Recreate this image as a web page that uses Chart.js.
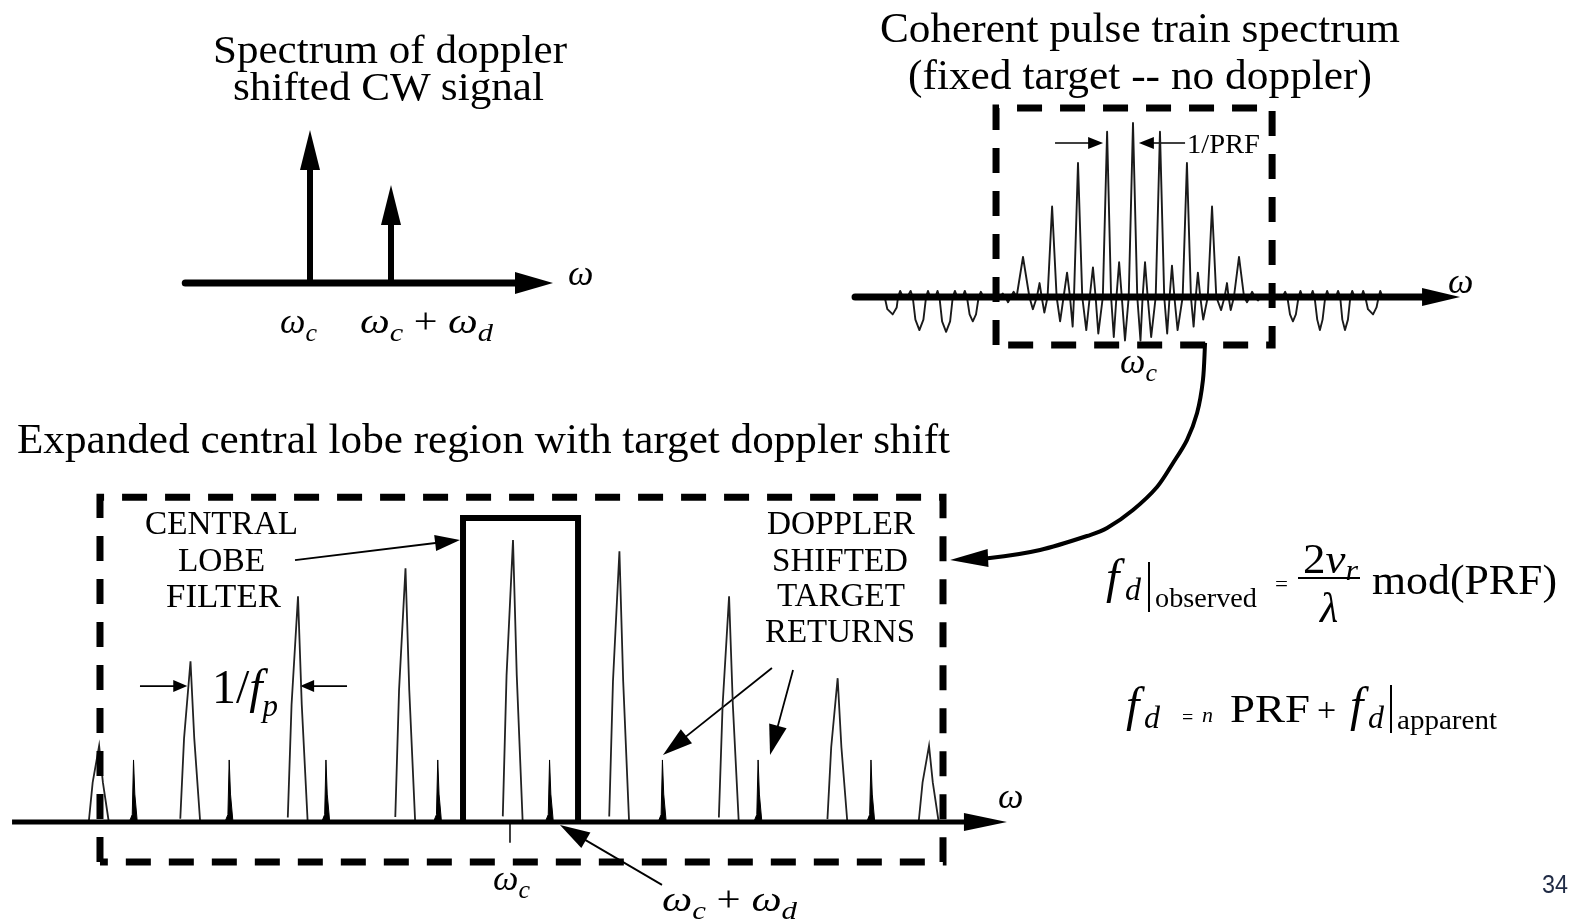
<!DOCTYPE html>
<html lang="en">
<head>
<meta charset="utf-8" />
<title>Pulse doppler spectrum</title>
<style>
  html, body { margin: 0; padding: 0; background: #fff; }
  #page { position: relative; width: 1569px; height: 920px; overflow: hidden;
          font-family: "Liberation Serif", "Times New Roman", serif; color: #000; }
  .layer { position: absolute; left: 0; top: 0; width: 1569px; height: 920px; }
  .t { position: absolute; white-space: nowrap; line-height: 1; transform-origin: 0 0; }
  .sb { position: relative; }
  .rule { position: absolute; background: #000; }
</style>
</head>
<body>
<div id="page">
  <div class="layer"><canvas id="cw"></canvas></div>
  <div class="layer"><canvas id="train"></canvas></div>
  <div class="layer"><canvas id="zoom"></canvas></div>
</div>
<script src="https://cdn.jsdelivr.net/npm/chart.js@4.4.1/dist/chart.umd.min.js"></script>
<script>
// ---- top left: CW spectrum (ω measured from ω_c, in units of ω_d) ----
const cwFreq = [0, 1];
const cwAmp = [1.0, 0.64];
const cwAxis = [-1.54, 3.0];

// ---- top right: coherent pulse train (ω in PRF units from ω_c, amplitude / main line) ----
const trainSpectrum = [
  // outer sidelobes, left
  [-9.3, 0], [-9.2, -0.07], [-9.0, -0.10], [-8.85, -0.06], [-8.8, 0], [-8.72, 0.035], [-8.62, 0],
  [-8.45, 0], [-8.33, 0.035], [-8.25, 0], [-8.15, -0.13], [-8.0, -0.19], [-7.85, -0.13], [-7.75, 0],
  [-7.68, 0.035], [-7.6, 0], [-7.4, 0], [-7.32, 0.035], [-7.25, 0], [-7.15, -0.14], [-7.0, -0.20],
  [-6.85, -0.14], [-6.75, 0], [-6.67, 0.035], [-6.58, 0], [-6.38, 0], [-6.3, 0.035], [-6.22, 0],
  [-6.12, -0.10], [-6.0, -0.14], [-5.88, -0.10], [-5.78, 0], [-5.7, 0.03], [-5.6, 0],
  // central lobe
  [-5.0, 0], [-4.88, 0.02], [-4.78, 0], [-4.68, -0.03], [-4.58, 0], [-4.47, 0.03], [-4.36, 0],
  [-4.12, 0.23], [-3.88, 0], [-3.75, -0.07], [-3.6, 0], [-3.5, 0.08], [-3.42, 0], [-3.32, -0.09],
  [-3.2, 0], [-3.03, 0.52], [-2.86, 0], [-2.73, -0.14], [-2.6, 0], [-2.47, 0.14], [-2.36, 0],
  [-2.26, -0.17], [-2.21, 0], [-2.06, 0.77], [-1.9, 0], [-1.75, -0.19], [-1.62, 0], [-1.5, 0.17],
  [-1.4, 0], [-1.3, -0.21], [-1.13, 0], [-0.97, 0.95], [-0.82, 0], [-0.72, -0.23], [-0.62, 0],
  [-0.52, 0.2], [-0.42, 0], [-0.3, -0.25], [-0.16, 0], [0, 1.0], [0.16, 0], [0.28, -0.25], [0.36, 0],
  [0.45, 0.2], [0.55, 0], [0.68, -0.23], [0.85, 0], [1.01, 0.95], [1.17, 0], [1.28, -0.21], [1.37, 0],
  [1.46, 0.18], [1.55, 0], [1.67, -0.19], [1.86, 0], [2.02, 0.77], [2.17, 0], [2.27, -0.17], [2.35, 0],
  [2.43, 0.14], [2.52, 0], [2.63, -0.13], [2.8, 0], [2.96, 0.52], [3.12, 0], [3.3, -0.075], [3.43, 0],
  [3.52, 0.08], [3.58, 0], [3.66, -0.075], [3.78, 0], [3.97, 0.23], [4.16, 0], [4.27, -0.03], [4.37, 0],
  [4.46, 0.03], [4.56, 0], [4.68, -0.02], [4.8, 0],
  // outer sidelobes, right
  [5.6, 0], [5.7, 0.03], [5.78, 0], [5.88, -0.10], [5.99, -0.14], [6.1, -0.10], [6.2, 0], [6.27, 0.035],
  [6.35, 0], [6.65, 0], [6.73, 0.035], [6.8, 0], [6.9, -0.13], [7.0, -0.19], [7.1, -0.13], [7.2, 0],
  [7.27, 0.035], [7.35, 0], [7.6, 0], [7.68, 0.035], [7.76, 0], [7.84, -0.13], [7.94, -0.19],
  [8.05, -0.13], [8.14, 0], [8.21, 0.035], [8.3, 0], [8.55, 0], [8.62, 0.035], [8.7, 0], [8.8, -0.07],
  [8.99, -0.10], [9.12, -0.06], [9.2, 0], [9.26, 0.035], [9.35, 0]
];
const trainAxis = [-10.41, 12.25];
const trainBox = { lo: -5.13, hi: 5.21, top: 1.086, bottom: -0.276 };
const prfMark = { amp: 0.885, left: [-2.92, -1.12], right: [1.95, 0.22] };
// link from the pulse train box down to the expanded view
const linkW = [2.70, 2.62, 2.40, 2.02, 1.50, 0.90, 0.0, -0.97, -1.61, -3.48, -5.36, -6.85];
const linkA = [-0.264, -0.477, -0.667, -0.822, -0.954, -1.092, -1.224, -1.328, -1.368, -1.454, -1.500, -1.511];

// ---- bottom: expanded central lobe (ω in PRF units from ω_c) ----
const lobeW = [-3.85, -3.0, -2.0, -1.0, 0, 0.99, 2.01, 3.02, 3.87];
const lobeA = [0.27, 0.57, 0.80, 0.90, 1.0, 0.96, 0.80, 0.51, 0.27];
const echoW = [-3.53, -2.64, -1.74, -0.70, 0.34, 1.39, 2.28, 3.33];
const echoA = [0.22, 0.22, 0.22, 0.22, 0.22, 0.22, 0.22, 0.22];
const zoomAxis = [-4.66, 4.595];
const filterBand = [-0.465, 0.605];
const filterGain = 1.078;
const zoomBox = { lo: -3.842, hi: 4.0, top: 1.152, bottom: -0.142 };
const fpMark = { amp: 0.482, left: [-3.47, -3.03], right: [-1.544, -1.98] };
const filterNote = [[-2.028, 0.929], [-0.493, 1.0]];
const echoNotes = [[[2.409, 0.546], [1.395, 0.238]], [[2.605, 0.539], [2.391, 0.238]]];
const sumNote = [[1.386, -0.223], [0.437, -0.011]];
const carrierTick = [[-0.028, 0], [-0.028, -0.074]];

// line shapes (offsets in ω, fraction of height)
const lobeShape = [[-0.095, 0.02], [-0.06, 0.52], [0, 1], [0.035, 0.52], [0.09, 0]];
const echoShape = [[-0.04, 0], [-0.012, 0.12], [0, 1], [0.012, 0.45], [0.035, 0]];

const W = 1569, H = 920;

const arrowHeads = {
  id: 'arrowHeads',
  beforeDatasetDraw(chart, args) {
    const ds = chart.data.datasets[args.index];
    if (!ds.head) return;
    const p = args.meta.data, n = p.length;
    const a = p[n - 2], b = p[n - 1];
    const L = Math.hypot(b.x - a.x, b.y - a.y) || 1;
    const ux = (b.x - a.x) / L, uy = (b.y - a.y) / L;
    ds._tip = { x: b.x, y: b.y, ux, uy };
    const bx = b.x - ux * (ds.head.len - 2), by = b.y - uy * (ds.head.len - 2);
    const ctx = chart.ctx, F = 5000;
    ctx.save();
    ctx.beginPath();
    ctx.moveTo(bx - uy * F, by + ux * F);
    ctx.lineTo(bx + uy * F, by - ux * F);
    ctx.lineTo(bx + uy * F - ux * F, by - ux * F - uy * F);
    ctx.lineTo(bx - uy * F - ux * F, by + ux * F - uy * F);
    ctx.closePath();
    ctx.clip();
  },
  afterDatasetDraw(chart, args) {
    const ds = chart.data.datasets[args.index];
    if (!ds.head) return;
    const ctx = chart.ctx, t = ds._tip, h = ds.head;
    ctx.restore();
    const bx = t.x - t.ux * h.len, by = t.y - t.uy * h.len;
    ctx.save();
    ctx.fillStyle = ds.borderColor;
    ctx.beginPath();
    ctx.moveTo(t.x, t.y);
    ctx.lineTo(bx - t.uy * h.half, by + t.ux * h.half);
    ctx.lineTo(bx + t.uy * h.half, by - t.ux * h.half);
    ctx.closePath();
    ctx.fill();
    ctx.restore();
  }
};

function pts(xs, ys) { return xs.map((x, i) => ({ x, y: ys[i] })); }
function pairs(list) { return list.map(p => ({ x: p[0], y: p[1] })); }

function seg(data, width, extra) {
  return Object.assign({
    data, showLine: true, borderColor: '#000', borderWidth: width,
    pointRadius: 0, fill: false, tension: 0, order: 5,
    borderCapStyle: 'butt', borderJoinStyle: 'miter'
  }, extra || {});
}

function frame(id, f, datasets) {
  return new Chart(document.getElementById(id), {
    type: 'scatter',
    data: { datasets },
    options: {
      responsive: true, maintainAspectRatio: false, animation: false, events: [],
      layout: { padding: 0 },
      plugins: { legend: { display: false }, tooltip: { enabled: false } },
      scales: {
        x: { type: 'linear', display: false, min: -f.cx / f.sx, max: (W - f.cx) / f.sx },
        y: { type: 'linear', display: false, min: (f.y0 - H) / f.sy, max: f.y0 / f.sy }
      }
    },
    plugins: [arrowHeads]
  });
}

// top left
const cwSets = [
  seg(pts(cwAxis, [0, 0]), 7, { order: 0, borderCapStyle: 'round', head: { len: 38, half: 11 } })
];
cwFreq.forEach((w, i) => {
  cwSets.push(seg(pts([w, w], [0, cwAmp[i]]), 6, { order: 1, head: { len: 40, half: 10 } }));
});
frame('cw', { cx: 310, sx: 81, y0: 283, sy: 153 }, cwSets);

// top right
const b1 = trainBox;
frame('train', { cx: 1133, sx: 26.7, y0: 297, sy: 174 }, [
  seg(pts(trainAxis, [0, 0]), 7, { order: 0, borderCapStyle: 'round', head: { len: 38, half: 9 } }),
  seg(pairs(trainSpectrum), 1.9, { borderColor: '#1a1a1a', order: 3, borderJoinStyle: 'round' }),
  seg(pts([b1.lo, b1.lo, b1.hi, b1.hi, b1.lo], [b1.bottom, b1.top, b1.top, b1.bottom, b1.bottom]), 7,
      { borderDash: [25, 18], order: 1 }),
  seg(pts(prfMark.left, [prfMark.amp, prfMark.amp]), 1.6, { head: { len: 15, half: 6 } }),
  seg(pts(prfMark.right, [prfMark.amp, prfMark.amp]), 1.6, { head: { len: 15, half: 6 } }),
  seg(pts(linkW, linkA), 4, { tension: 0.3, head: { len: 38, half: 9 } })
]);

// bottom
const zoomSets = [
  seg(pts(zoomAxis, [0, 0]), 5, { order: 0, head: { len: 43, half: 9 } })
];
lobeW.forEach((w, i) => {
  zoomSets.push(seg(lobeShape.map(s => ({ x: w + s[0], y: lobeA[i] * s[1] })), 1.8,
    { borderColor: '#222', order: 4 }));
});
echoW.forEach((w, i) => {
  zoomSets.push(seg(echoShape.map(s => ({ x: w + s[0], y: echoA[i] * s[1] })), 1,
    { fill: 'origin', backgroundColor: '#000', order: 4 }));
});
zoomSets.push(seg(pts([filterBand[0], filterBand[0], filterBand[1], filterBand[1]], [0, filterGain, filterGain, 0]), 6, { order: 2 }));
zoomSets.push(seg(pts([zoomBox.lo, zoomBox.lo, zoomBox.hi, zoomBox.hi, zoomBox.lo],
  [zoomBox.bottom, zoomBox.top, zoomBox.top, zoomBox.bottom, zoomBox.bottom]), 7, { borderDash: [25, 18], order: 1 }));
zoomSets.push(seg(pts(fpMark.left, [fpMark.amp, fpMark.amp]), 1.6, { head: { len: 14, half: 6 } }));
zoomSets.push(seg(pts(fpMark.right, [fpMark.amp, fpMark.amp]), 1.6, { head: { len: 14, half: 6 } }));
zoomSets.push(seg(pairs(filterNote), 1.8, { head: { len: 25, half: 8 } }));
echoNotes.forEach(n => zoomSets.push(seg(pairs(n), 1.8, { head: { len: 30, half: 9 } })));
zoomSets.push(seg(pairs(sumNote), 1.8, { head: { len: 30, half: 9 } }));
zoomSets.push(seg(pairs(carrierTick), 1.5));
frame('zoom', { cx: 513, sx: 107.5, y0: 822, sy: 282 }, zoomSets);

// ---- text ----
const page = document.getElementById('page');
function put(html, x, base, size, w, extra) {
  const el = document.createElement('div');
  el.className = 't';
  el.innerHTML = html;
  el.style.left = x + 'px';
  el.style.fontSize = size + 'px';
  const sans = extra && extra.sans;
  el.style.top = (base - (sans ? 0.8465 : 0.8375) * size) + 'px';
  if (sans) el.style.fontFamily = '"Liberation Sans", Arial, sans-serif';
  if (extra && extra.color) el.style.color = extra.color;
  page.appendChild(el);
  if (w) {
    const nat = el.getBoundingClientRect().width;
    el.style.transform = 'scaleX(' + (w / nat).toFixed(4) + ')';
  }
}
function rule(x, y, w, h) {
  const el = document.createElement('div');
  el.className = 'rule';
  Object.assign(el.style, { left: x + 'px', top: y + 'px', width: w + 'px', height: h + 'px' });
  page.appendChild(el);
}
const sub = (s, size, dy) => '<span class="sb" style="font-size:' + size + 'px;top:' + dy + 'px"><i>' + s + '</i></span>';
const omc = '<i>ω</i>' + sub('c', 26, 8);
const omd = '<i>ω</i>' + sub('d', 26, 8);

put('Spectrum of doppler', 213, 63, 40, 354);
put('shifted CW signal', 233, 100, 40, 311);
put('Coherent pulse train spectrum', 880, 42, 42, 520);
put('(fixed target -- no doppler)', 908, 89, 42, 464);
put('Expanded central lobe region with target doppler shift', 17, 453, 43, 933);

put('CENTRAL', 145, 535, 33, 153);
put('LOBE', 178, 572, 33, 87);
put('FILTER', 166, 608, 33, 115);
put('DOPPLER', 767, 535, 33, 148);
put('SHIFTED', 772, 572, 33, 136);
put('TARGET', 777, 607, 33, 128);
put('RETURNS', 765, 643, 33, 150);

put('1/<i>f</i>' + sub('p', 31, 13), 212, 703, 48, 66);
put('1/PRF', 1187, 153, 28, 73);

put('<i>ω</i>', 568, 285, 36);
put(omc, 280, 333, 36);
put(omc + ' + ' + omd, 360, 333, 36, 133);
put('<i>ω</i>', 1448, 293, 36);
put(omc, 1120, 373, 36);
put('<i>ω</i>', 998, 808, 36);
put(omc, 493, 890, 36);
put(omc + ' + ' + omd, 662, 911, 36, 135);

// formula 1
put('<i>f</i>', 1106, 593, 48);
put('<i>d</i>', 1125, 600, 32);
rule(1148, 562, 2, 50);
put('observed', 1155, 607, 28, 102);
put('=', 1275, 591, 20, 13);
put('2<i>v</i>' + sub('r', 30, 7), 1303, 573, 42, 55);
rule(1298, 577, 62, 2);
put('<i>λ</i>', 1320, 622, 42);
put('mod(PRF)', 1372, 594, 42, 185);

// formula 2
put('<i>f</i>', 1126, 721, 48);
put('<i>d</i>', 1144, 728, 32);
put('=', 1182, 724, 20);
put('<i>n</i>', 1202, 722, 22);
put('PRF', 1230, 722, 40, 80);
put('+', 1317, 721, 34);
put('<i>f</i>', 1350, 721, 48);
put('<i>d</i>', 1368, 728, 32);
rule(1390, 685, 2, 48);
put('apparent', 1397, 729, 28, 100);

put('34', 1542, 893, 26, 26, { sans: true, color: '#1f2a44' });
</script>
</body>
</html>
